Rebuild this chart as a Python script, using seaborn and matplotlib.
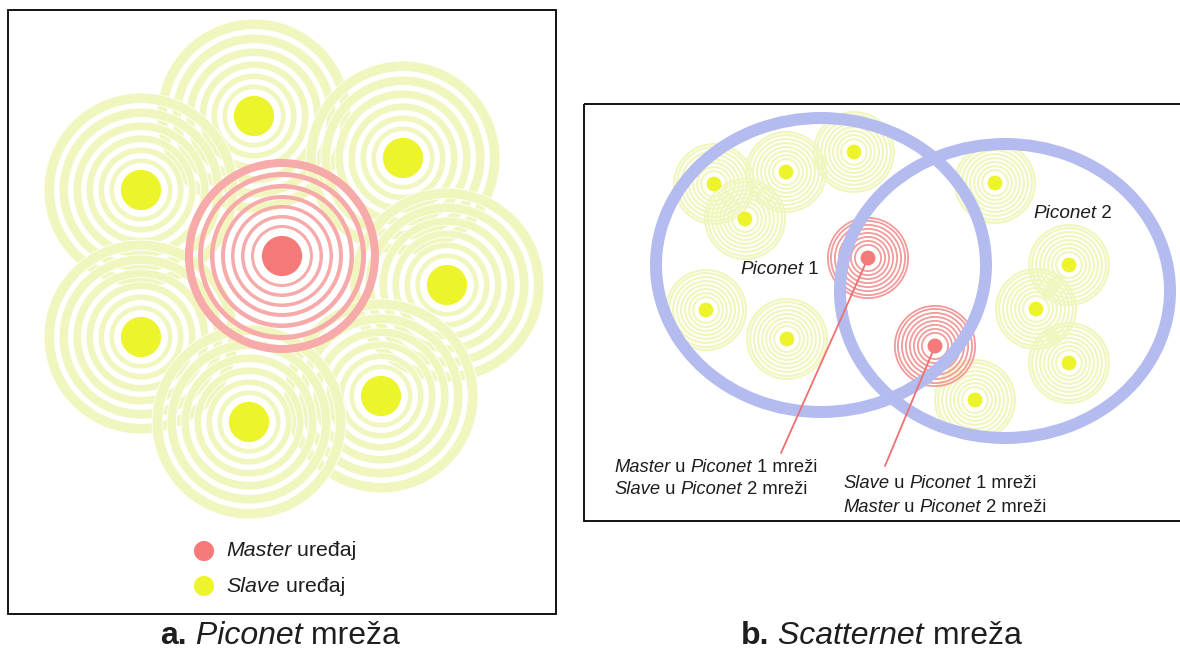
import matplotlib
matplotlib.use("Agg")
import matplotlib.pyplot as plt
import pandas as pd
import seaborn as sns
from matplotlib.patches import Annulus, Rectangle
from matplotlib.offsetbox import TextArea, HPacker, AnnotationBbox

# node centres, left panel (a. Piconet), in picture pixels
left_master_x = [282]
left_master_y = [256]
left_slave_x = [254, 403, 141, 447, 141, 381, 249]
left_slave_y = [116, 158, 190, 285, 337, 396, 422]

# node centres, right panel (b. Scatternet)
right_slave_x = [714, 786, 854, 745, 995, 1069, 1036, 1069, 706, 787, 975]
right_slave_y = [184, 172, 152, 219, 183, 265, 309, 363, 310, 339, 400]
right_master_x = [868, 935]
right_master_y = [258, 346]

# the two piconet circles
piconet_x = [821, 1005]
piconet_y = [265, 291]

# pointer lines from the two masters to their labels
pointer_end_x = [781, 885]
pointer_end_y = [453, 466]

# colours
SLAVE_RING = "#f1f6bf"
SLAVE_DOT = "#eef42c"
MASTER_RING = "#f6aaaa"
MASTER_DOT = "#f67a7a"
BLUE = "#b4bcef"
TEXT = "#1e1e1e"

sns.set_theme(style="white")
plt.rcParams["font.family"] = ["Liberation Sans", "DejaVu Sans"]

fig = plt.figure(figsize=(11.8, 6.53), dpi=100)
ax = fig.add_axes([0, 0, 1, 1])
ax.set_xlim(0, 1180)
ax.set_ylim(653, 0)
ax.axis("off")


def rings(x, y, radii, widths, color, z, edge=0.0):
    for r, w in zip(radii, widths):
        ax.add_patch(Annulus((x, y), r, w, facecolor=color,
                             edgecolor="white" if edge else "none", lw=edge, zorder=z))


def rich(x, y, parts, size, ha=0.0):
    # parts: list of (text, style, weight)
    boxes = [TextArea(t, textprops=dict(fontsize=size, fontstyle=st, fontweight=wt, color=TEXT))
             for t, st, wt in parts]
    pack = HPacker(children=boxes, align="baseline", pad=0, sep=0)
    ab = AnnotationBbox(pack, (x, y), xycoords="data", frameon=False,
                        box_alignment=(ha, 0.5), pad=0)
    ax.add_artist(ab)


# frames
ax.add_patch(Rectangle((8, 10), 548, 604, fill=False, edgecolor="black", lw=1.3, zorder=10))
ax.add_patch(Rectangle((584, 104), 610, 417, fill=False, edgecolor="black", lw=1.3, zorder=10))

# left panel rings (thin white edge so crossing rings break up like the original)
slave_r = [32, 43, 55, 68, 82, 97]
slave_w = [5.5, 6.5, 7.5, 8.5, 9.5, 10.5]
master_r = [31, 41, 51, 61, 72, 84, 97]
master_w = [3, 3.5, 3.5, 4, 4.5, 5, 8]
for x, y in zip(left_slave_x, left_slave_y):
    rings(x, y, slave_r, slave_w, SLAVE_RING, 1, edge=0.6)
for x, y in zip(left_master_x, left_master_y):
    rings(x, y, master_r, master_w, MASTER_RING, 2)

# right panel rings
small_r = [14, 18, 22, 26, 30, 34, 38, 41]
for x, y in zip(right_slave_x, right_slave_y):
    rings(x, y, small_r, [2.2] * 8, SLAVE_RING, 1)
for x, y in zip(right_master_x, right_master_y):
    rings(x, y, small_r, [1.8] * 8, "#f29a9a", 2)

# piconet circles
for x, y in zip(piconet_x, piconet_y):
    ax.add_patch(Annulus((x, y), (171, 153), 12, facecolor=BLUE, edgecolor="none", zorder=3))

# pointer lines
for mx, my, ex, ey in zip(right_master_x, right_master_y, pointer_end_x, pointer_end_y):
    ax.plot([mx, ex], [my, ey], color="#ee7070", lw=1.3, zorder=4)

# device dots
pal = {"Master": MASTER_DOT, "Slave": SLAVE_DOT}
left_df = pd.DataFrame({
    "x": left_master_x + left_slave_x,
    "y": left_master_y + left_slave_y,
    "role": ["Master"] * len(left_master_x) + ["Slave"] * len(left_slave_x),
})
right_df = pd.DataFrame({
    "x": right_master_x + right_slave_x,
    "y": right_master_y + right_slave_y,
    "role": ["Master"] * len(right_master_x) + ["Slave"] * len(right_slave_x),
})
legend_df = pd.DataFrame({"x": [204, 204], "y": [551, 586], "role": ["Master", "Slave"]})

sns.scatterplot(data=left_df, x="x", y="y", hue="role", palette=pal, s=840,
                linewidth=0, legend=False, ax=ax, zorder=5)
sns.scatterplot(data=right_df, x="x", y="y", hue="role", palette=pal, s=115,
                linewidth=0, legend=False, ax=ax, zorder=5)
sns.scatterplot(data=legend_df, x="x", y="y", hue="role", palette=pal, s=210,
                linewidth=0, legend=False, ax=ax, zorder=5)
ax.set_xlim(0, 1180)
ax.set_ylim(653, 0)

# legend texts
rich(226, 551, [("Master", "italic", "normal"), (" uređaj", "normal", "normal")], 15.4)
rich(226, 586, [("Slave", "italic", "normal"), (" uređaj", "normal", "normal")], 15.4)

# piconet labels
rich(740, 270, [("Piconet", "italic", "normal"), (" 1", "normal", "normal")], 13.6)
rich(1033, 213, [("Piconet", "italic", "normal"), (" 2", "normal", "normal")], 13.6)

# annotations
rich(614, 467, [("Master", "italic", "normal"), (" u ", "normal", "normal"),
                ("Piconet", "italic", "normal"), (" 1 mreži", "normal", "normal")], 13.2)
rich(614, 490, [("Slave", "italic", "normal"), (" u ", "normal", "normal"),
                ("Piconet", "italic", "normal"), (" 2 mreži", "normal", "normal")], 13.2)
rich(843, 484, [("Slave", "italic", "normal"), (" u ", "normal", "normal"),
                ("Piconet", "italic", "normal"), (" 1 mreži", "normal", "normal")], 13.2)
rich(843, 507, [("Master", "italic", "normal"), (" u ", "normal", "normal"),
                ("Piconet", "italic", "normal"), (" 2 mreži", "normal", "normal")], 13.2)

# captions
rich(280, 636, [("a.", "normal", "bold"), (" Piconet", "italic", "normal"),
                (" mreža", "normal", "normal")], 23, ha=0.5)
rich(881, 636, [("b.", "normal", "bold"), (" Scatternet", "italic", "normal"),
                (" mreža", "normal", "normal")], 23, ha=0.5)

fig.savefig("out.png", dpi=100)
